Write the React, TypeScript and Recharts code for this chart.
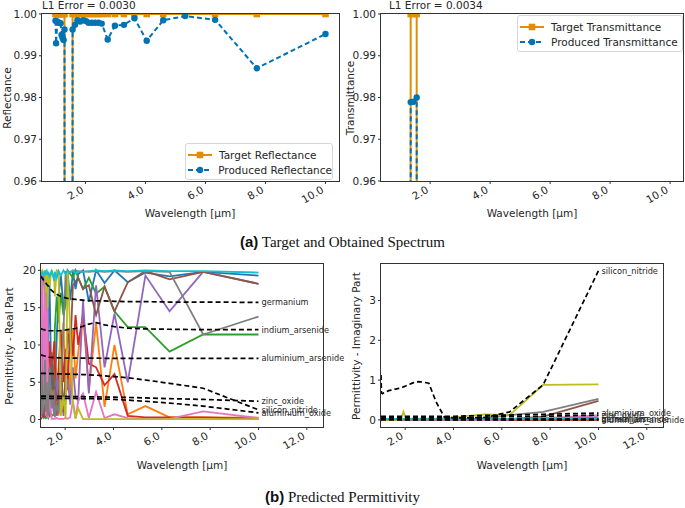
import { LineChart, Line, XAxis, YAxis, LabelList } from 'recharts';

const FONT = '"DejaVu Sans", Verdana, sans-serif';
const INK = '#262626';

// wavelength grid [µm]
const wavelength = [
  1.0, 1.02, 1.06, 1.12, 1.17, 1.2, 1.24, 1.27, 1.3, 1.35, 1.44,
  1.55, 1.57, 1.65, 1.73, 1.82, 1.93, 2.02, 2.1, 2.21, 2.32, 2.43,
  2.54, 2.74, 2.98, 3.28, 3.63, 4.04, 4.59, 5.32, 6.32, 7.71, 10.0,
];

// spectra
const targetReflectance = [
  1, 1, 1, 1, 1, 1, 1, 1, 1, 0, 0,
  0, 1, 1, 1, 1, 1, 1, 1, 1, 1, 1,
  1, 1, 1, 1, 1, 1, 1, 1, 1, 1, 1,
];
const producedReflectance = [
  0.9984, 0.993, 0.9982, 0.9979, 0.9978, 0.995, 0.9942, 0.9938, 0.9963, 0.021, 0.02,
  0.02, 0.9963, 0.9974, 0.9985, 0.9982, 0.9985, 0.9983, 0.9979, 0.9979, 0.9979, 0.9979,
  0.9977, 0.9939, 0.9972, 0.9974, 0.999, 0.9936, 0.9985, 0.9995, 0.9986, 0.987, 0.9952,
];
const targetTransmittance = [
  0, 0, 0, 0, 0, 0, 0, 0, 0, 1, 1,
  1, 0, 0, 0, 0, 0, 0, 0, 0, 0, 0,
  0, 0, 0, 0, 0, 0, 0, 0, 0, 0, 0,
];
const producedTransmittance = [
  0.0016, 0.007, 0.0018, 0.0021, 0.0022, 0.005, 0.0058, 0.0062, 0.0037, 0.9789, 0.979,
  0.98, 0.0037, 0.0026, 0.0015, 0.0018, 0.0015, 0.0017, 0.0021, 0.0021, 0.0021, 0.0021,
  0.0023, 0.0061, 0.0028, 0.0026, 0.001, 0.0064, 0.0015, 0.0005, 0.0014, 0.013, 0.0048,
];

// predicted permittivity, real part (one array per layer)
const blueReal = [
  19.8, 2.0, 19.5, 19.0, 17.0, 6.0, 19.5, 1.5, 12.0, 18.5, 3.0,
  7.5, 2.0, 11.0, 16.5, 19.5, 15.0, 15.5, 19.8, 16.0, 19.8, 17.5,
  19.5, 20.0, 15.8, 20.0, 18.3, 20.0, 18.4, 19.7, 19.2, 19.8, 19.3,
];
const orangeReal = [
  0.2, 19.8, 0.3, 5.0, 0.2, 12.0, 3.0, 0.5, 9.0, 0.3, 4.0,
  0.5, 10.5, 3.0, 0.5, 6.0, 13.0, 2.0, 8.0, 3.5, 12.0, 5.5,
  9.0, 14.0, 4.0, 13.0, 1.7, 10.0, 0.7, 1.8, 0.3, 0.3, 0.25,
];
const greenReal = [
  0.3, 0.2, 0.5, 0.2, 0.4, 0.2, 0.3, 0.3, 0.2, 1.5, 0.5,
  0.8, 12.0, 16.5, 13.0, 17.0, 14.0, 15.5, 20.0, 19.5, 19.0, 20.0,
  19.0, 17.5, 19.0, 16.9, 17.8, 14.5, 12.4, 12.4, 9.1, 11.4, 11.4,
];
const redReal = [
  0.1, 0.5, 7.0, 0.3, 2.0, 6.0, 0.5, 9.0, 3.0, 10.5, 6.0,
  10.5, 8.0, 2.5, 7.0, 12.0, 5.0, 9.5, 4.0, 12.5, 8.5, 14.0,
  10.0, 14.2, 7.5, 7.0, 4.6, 6.1, 0.5, 0.3, 0.3, 0.3, 0.1,
];
const purpleReal = [
  19.5, 0.3, 14.0, 4.0, 0.5, 8.0, 2.0, 0.3, 5.0, 1.0, 3.0,
  0.5, 2.0, 6.0, 1.5, 4.0, 0.5, 3.0, 5.5, 2.0, 7.0, 3.0,
  2.5, 16.0, 3.5, 18.0, 7.0, 14.2, 5.0, 19.3, 14.5, 19.8, 18.2,
];
const brownReal = [
  0.5, 3.0, 0.2, 8.0, 0.3, 4.0, 10.0, 0.5, 5.0, 0.3, 9.0,
  2.0, 4.5, 0.5, 3.0, 8.0, 1.0, 6.0, 12.0, 9.0, 18.0, 18.5,
  19.0, 17.5, 18.0, 14.0, 17.8, 14.5, 18.4, 19.9, 18.8, 19.8, 18.2,
];
const pinkReal = [
  0.3, 18.5, 19.5, 2.0, 19.0, 0.5, 12.0, 17.0, 0.2, 3.0, 0.1,
  0.1, 0.1, 0.2, 0.1, 0.1, 0.1, 0.2, 0.1, 0.3, 2.5, 0.2,
  2.5, 3.5, 0.2, 3.7, 0.2, 0.7, 0.2, 0.1, 0.1, 1.1, 0.2,
];
const grayReal = [
  0.5, 6.0, 0.8, 3.0, 8.0, 1.0, 5.0, 2.5, 0.5, 7.0, 1.5,
  4.0, 0.3, 2.0, 0.8, 5.0, 12.0, 19.8, 19.9, 19.8, 19.9, 20.0,
  19.8, 19.9, 19.8, 19.9, 19.8, 19.9, 19.8, 19.9, 19.8, 11.4, 13.8,
];
const oliveReal = [
  20.0, 19.8, 20.0, 19.5, 20.0, 17.0, 19.8, 15.0, 19.5, 18.0, 20.0,
  19.0, 16.5, 20.0, 19.8, 0.5, 3.0, 0.2, 20.0, 12.0, 2.0, 0.1,
  1.5, 0.05, 0.05, 0.05, 0.05, 0.05, 0.05, 0.05, 0.05, 0.05, 0.05,
];
const cyanReal = [
  19.8, 19.5, 19.7, 19.3, 19.8, 19.6, 19.9, 19.4, 19.8, 19.2, 19.9,
  18.6, 19.8, 19.0, 19.9, 19.3, 20.0, 19.5, 19.9, 19.7, 20.0, 19.6,
  19.9, 19.8, 19.9, 20.0, 19.9, 20.0, 19.9, 20.0, 19.9, 19.9, 19.7,
];

// predicted permittivity, imaginary part
const blueImag = [
  0.01, 0.01, 0.01, 0.01, 0.01, 0.01, 0.01, 0.01, 0.01, 0.01, 0.01,
  0.01, 0.01, 0.01, 0.01, 0.01, 0.01, 0.01, 0.01, 0.01, 0.01, 0.01,
  0.01, 0.01, 0.01, 0.01, 0.01, 0.01, 0.01, 0.01, 0.01, 0.01, 0.01,
];
const orangeImag = [
  0, 0, 0, 0, 0, 0, 0, 0, 0, 0, 0,
  0, 0, 0, 0, 0, 0, 0, 0, 0, 0, 0,
  0, 0, 0, 0, 0, 0, 0, 0, 0, 0, 0,
];
const greenImag = [
  0, 0, 0, 0, 0, 0, 0, 0, 0, 0, 0,
  0, 0, 0, 0, 0, 0, 0, 0, 0, 0, 0,
  0, 0, 0, 0, 0, 0, 0, 0, 0, 0.01, 0.01,
];
const redImag = [
  0, 0, 0, 0, 0, 0, 0, 0, 0, 0, 0,
  0, 0, 0, 0, 0, 0, 0, 0, 0, 0, 0,
  0, 0, 0, 0, 0, 0, 0, 0, 0, 0, 0,
];
const purpleImag = [
  0, 0, 0, 0, 0, 0, 0, 0, 0, 0, 0,
  0, 0, 0, 0, 0, 0, 0, 0, 0, 0, 0,
  0, 0, 0, 0, 0, 0, 0, 0, 0.01, 0.03, 0.07,
];
const brownImag = [
  0, 0, 0, 0, 0, 0, 0, 0, 0, 0, 0,
  0, 0, 0, 0, 0, 0, 0, 0, 0, 0, 0,
  0, 0, 0, 0, 0, 0, 0, 0, 0.02, 0.08, 0.48,
];
const pinkImag = [
  0, 0, 0, 0, 0, 0, 0, 0, 0, 0, 0,
  0, 0, 0, 0, 0, 0, 0, 0, 0, 0, 0,
  0, 0, 0, 0, 0, 0, 0, 0, 0.01, 0.04, 0.11,
];
const grayImag = [
  0, 0, 0, 0, 0, 0, 0, 0, 0, 0, 0,
  0, 0, 0, 0, 0, 0, 0, 0, 0, 0, 0,
  0, 0, 0, 0, 0, 0, 0, 0.04, 0.12, 0.2, 0.53,
];
const oliveImag = [
  0, 0, 0, 0, 0, 0, 0, 0, 0, 0, 0,
  0, 0, 0, 0, 0, 0.2, 0.04, 0.03, 0.03, 0.03, 0.03,
  0.03, 0.03, 0.03, 0.03, 0.04, 0.06, 0.1, 0.14, 0.12, 0.88, 0.89,
];
const cyanImag = [
  0.02, 0.02, 0.02, 0.02, 0.02, 0.02, 0.02, 0.02, 0.02, 0.02, 0.02,
  0.02, 0.02, 0.02, 0.02, 0.02, 0.02, 0.02, 0.02, 0.02, 0.02, 0.02,
  0.02, 0.02, 0.02, 0.02, 0.02, 0.02, 0.02, 0.02, 0.02, 0.04, 0.03,
];

// reference materials
const materialNames = [
  'germanium', 'indium_arsenide', 'aluminium_arsenide',
  'silicon_nitride', 'zinc_oxide', 'aluminium_oxide',
];
const germaniumReal = [
  19.2, 19.1, 18.9, 18.6, 18.4, 18.3, 18.1, 18.0, 17.9, 17.6, 17.3,
  17.0, 16.95, 16.8, 16.65, 16.5, 16.4, 16.3, 16.25, 16.2, 16.15, 16.1,
  16.05, 16.0, 15.95, 15.9, 15.9, 15.85, 15.8, 15.8, 15.75, 15.75, 15.7,
];
const indiumArsenideReal = [
  12.2, 12.15, 12.1, 12.05, 12.0, 12.0, 11.95, 11.95, 11.9, 11.9, 11.9,
  11.9, 11.9, 11.9, 11.9, 11.92, 11.95, 12.0, 12.05, 12.1, 12.15, 12.2,
  12.3, 12.5, 12.8, 13.0, 12.7, 12.45, 12.25, 12.15, 12.1, 12.05, 12.05,
];
const aluminiumArsenideReal = [
  8.7, 8.65, 8.6, 8.55, 8.5, 8.45, 8.42, 8.4, 8.38, 8.35, 8.32,
  8.3, 8.3, 8.28, 8.27, 8.26, 8.25, 8.25, 8.24, 8.24, 8.23, 8.23,
  8.23, 8.22, 8.22, 8.22, 8.21, 8.21, 8.21, 8.2, 8.2, 8.2, 8.2,
];
const siliconNitrideReal = [
  6.2, 6.2, 6.19, 6.18, 6.18, 6.17, 6.17, 6.16, 6.16, 6.15, 6.15,
  6.14, 6.14, 6.13, 6.13, 6.12, 6.11, 6.1, 6.09, 6.08, 6.07, 6.06,
  6.05, 6.03, 6.0, 5.95, 5.85, 5.75, 5.6, 5.3, 4.85, 4.2, 1.3,
];
const zincOxideReal = [
  3.15, 3.15, 3.14, 3.14, 3.13, 3.13, 3.13, 3.12, 3.12, 3.12, 3.11,
  3.11, 3.11, 3.1, 3.1, 3.1, 3.1, 3.1, 3.09, 3.09, 3.08, 3.08,
  3.07, 3.06, 3.05, 3.03, 3.02, 3.0, 2.96, 2.9, 2.8, 2.7, 2.45,
];
const aluminiumOxideReal = [
  2.85, 2.85, 2.85, 2.85, 2.85, 2.85, 2.85, 2.85, 2.85, 2.85, 2.85,
  2.85, 2.85, 2.85, 2.85, 2.85, 2.85, 2.85, 2.84, 2.84, 2.83, 2.83,
  2.82, 2.81, 2.8, 2.78, 2.75, 2.7, 2.6, 2.45, 2.2, 1.8, 0.9,
];
const germaniumImag = [
  0.05, 0.05, 0.04, 0.04, 0.04, 0.03, 0.03, 0.03, 0.03, 0.02, 0.02,
  0.02, 0.02, 0.02, 0.02, 0.01, 0.01, 0.01, 0.01, 0.01, 0.01, 0.01,
  0.01, 0.01, 0.01, 0.01, 0.01, 0.01, 0.01, 0.01, 0.01, 0.01, 0.01,
];
const indiumArsenideImag = [
  0.02, 0.02, 0.02, 0.02, 0.02, 0.02, 0.02, 0.02, 0.02, 0.02, 0.02,
  0.02, 0.02, 0.02, 0.02, 0.02, 0.02, 0.02, 0.02, 0.02, 0.02, 0.02,
  0.02, 0.02, 0.02, 0.02, 0.02, 0.02, 0.02, 0.02, 0.02, 0.02, 0.02,
];
const aluminiumArsenideImag = [
  0, 0, 0, 0, 0, 0, 0, 0, 0, 0, 0,
  0, 0, 0, 0, 0, 0, 0, 0, 0, 0, 0,
  0, 0, 0, 0, 0, 0, 0, 0, 0, 0, 0,
];
const siliconNitrideImag = [
  1.13, 0.68, 0.66, 0.68, 0.69, 0.7, 0.71, 0.72, 0.73, 0.74, 0.75,
  0.76, 0.77, 0.78, 0.79, 0.8, 0.83, 0.85, 0.87, 0.9, 0.93, 0.95,
  0.96, 0.95, 0.92, 0.45, 0.06, 0.05, 0.05, 0.06, 0.2, 0.88, 3.75,
];
const zincOxideImag = [
  0.06, 0.06, 0.06, 0.06, 0.06, 0.06, 0.06, 0.06, 0.06, 0.06, 0.06,
  0.06, 0.06, 0.06, 0.06, 0.06, 0.06, 0.06, 0.06, 0.06, 0.06, 0.06,
  0.06, 0.06, 0.06, 0.06, 0.06, 0.06, 0.06, 0.07, 0.08, 0.09, 0.12,
];
const aluminiumOxideImag = [
  0.09, 0.09, 0.09, 0.09, 0.09, 0.09, 0.09, 0.09, 0.09, 0.09, 0.09,
  0.09, 0.09, 0.09, 0.09, 0.09, 0.09, 0.09, 0.09, 0.09, 0.09, 0.09,
  0.09, 0.09, 0.09, 0.09, 0.09, 0.09, 0.1, 0.11, 0.12, 0.14, 0.17,
];

const layerColors = [
  '#1f77b4', '#ff7f0e', '#2ca02c', '#d62728', '#9467bd',
  '#8c564b', '#e377c2', '#7f7f7f', '#bcbd22', '#17becf',
];
const realLayers = [
  blueReal, orangeReal, greenReal, redReal, purpleReal,
  brownReal, pinkReal, grayReal, oliveReal, cyanReal,
];
const imagLayers = [
  blueImag, orangeImag, greenImag, redImag, purpleImag,
  brownImag, pinkImag, grayImag, oliveImag, cyanImag,
];
const realMaterials = [
  germaniumReal, indiumArsenideReal, aluminiumArsenideReal,
  siliconNitrideReal, zincOxideReal, aluminiumOxideReal,
];
const imagMaterials = [
  germaniumImag, indiumArsenideImag, aluminiumArsenideImag,
  siliconNitrideImag, zincOxideImag, aluminiumOxideImag,
];

const spectrumXTicks = [2, 4, 6, 8, 10];
const spectrumYTicks = [0.96, 0.97, 0.98, 0.99, 1.0];
const permXTicks = [2, 4, 6, 8, 10, 12];
const realYTicks = [0, 5, 10, 15, 20];
const imagYTicks = [0, 1, 2, 3];

const ORANGE = '#de8f05';
const BLUE = '#0173b2';

const spectrumRows = wavelength.map((wl, i) => ({
  wl,
  targetR: targetReflectance[i],
  producedR: producedReflectance[i],
  targetT: targetTransmittance[i],
  producedT: producedTransmittance[i],
}));

function permRows(layers: number[][], materials: number[][]) {
  return wavelength.map((wl, i) => {
    const row: Record<string, number> = { wl };
    layers.forEach((arr, k) => (row[`p${k}`] = arr[i]));
    materials.forEach((arr, k) => (row[`m${k}`] = arr[i]));
    return row;
  });
}
const realRows = permRows(realLayers, realMaterials);
const imagRows = permRows(imagLayers, imagMaterials);

// eslint-disable-next-line @typescript-eslint/no-explicit-any
function SlantTick(props: any) {
  const { x, y, payload } = props;
  const ox = x - 1;
  const oy = y + 6;
  return (
    <text
      x={ox}
      y={oy}
      textAnchor="end"
      transform={`rotate(-30 ${ox} ${oy})`}
      fontSize={10.5}
      fill={INK}
      fontFamily={FONT}
    >
      {Number(payload.value).toFixed(1)}
    </text>
  );
}

// eslint-disable-next-line @typescript-eslint/no-explicit-any
function SquareDot(props: any) {
  const { cx, cy, index } = props;
  if (cx == null || cy == null) return null;
  return <rect key={`sq-${index}`} x={cx - 3.3} y={cy - 3.3} width={6.6} height={6.6} fill={ORANGE} />;
}

// eslint-disable-next-line @typescript-eslint/no-explicit-any
function RoundDot(props: any) {
  const { cx, cy, index } = props;
  if (cx == null || cy == null) return null;
  return <circle key={`c-${index}`} cx={cx} cy={cy} r={3.2} fill={BLUE} />;
}

function endLabel(name: string) {
  // eslint-disable-next-line @typescript-eslint/no-explicit-any
  return (props: any) => {
    const { index, x, y, viewBox } = props;
    if (index !== wavelength.length - 1) return null;
    const px = x ?? viewBox?.x;
    const py = y ?? viewBox?.y;
    return (
      <text x={px + 3} y={py} dy="0.35em" fontSize={8.2} fill={INK} fontFamily={FONT}>
        {name}
      </text>
    );
  };
}

const tickStyle = { fontSize: 10.5, fill: INK, fontFamily: FONT };

function Frame({ left, top, width, height }: { left: number; top: number; width: number; height: number }) {
  return (
    <div
      style={{
        position: 'absolute',
        left,
        top,
        width,
        height,
        border: '1px solid #333',
        boxSizing: 'border-box',
        pointerEvents: 'none',
      }}
    />
  );
}

function Txt({ x, y, text, rotate = 0, size = 10.5 }: { x: number; y: number; text: string; rotate?: number; size?: number }) {
  return (
    <div
      style={{
        position: 'absolute',
        left: x,
        top: y,
        transform: `translate(-50%, -50%) rotate(${rotate}deg)`,
        fontSize: size,
        fontFamily: FONT,
        color: INK,
        whiteSpace: 'nowrap',
        lineHeight: 1,
      }}
    >
      {text}
    </div>
  );
}

function LegendBox({ left, top, width, kind }: { left: number; top: number; width: number; kind: string }) {
  const rows = [
    { label: `Target ${kind}`, color: ORANGE, dash: undefined, square: true },
    { label: `Produced ${kind}`, color: BLUE, dash: '5 3', square: false },
  ];
  return (
    <div
      style={{
        position: 'absolute',
        left,
        top,
        width,
        height: 37,
        border: '1px solid #d6d6d6',
        borderRadius: 3,
        background: 'rgba(255,255,255,0.85)',
        boxSizing: 'border-box',
        padding: '3px 0 0 2px',
      }}
    >
      {rows.map((r) => (
        <div key={r.label} style={{ display: 'flex', alignItems: 'center', height: 15 }}>
          <svg width={24} height={10}>
            <line x1={0} y1={5} x2={24} y2={5} stroke={r.color} strokeWidth={2} strokeDasharray={r.dash} />
            {r.square ? (
              <rect x={8.7} y={1.7} width={6.6} height={6.6} fill={r.color} />
            ) : (
              <circle cx={12} cy={5} r={3.2} fill={r.color} />
            )}
          </svg>
          <span style={{ marginLeft: 7, fontSize: 10.5, fontFamily: FONT, color: INK, whiteSpace: 'nowrap' }}>
            {r.label}
          </span>
        </div>
      ))}
    </div>
  );
}

function SpectrumChart({
  width,
  yWidth,
  right,
  xDomain,
  targetKey,
  producedKey,
}: {
  width: number;
  yWidth: number;
  right: number;
  xDomain: [number, number];
  targetKey: string;
  producedKey: string;
}) {
  return (
    <LineChart width={width} height={215} data={spectrumRows} margin={{ top: 14, right, bottom: 0, left: 0 }}>
      <XAxis
        type="number"
        dataKey="wl"
        domain={xDomain}
        ticks={spectrumXTicks}
        tick={<SlantTick />}
        axisLine={false}
        tickLine={{ stroke: '#333' }}
        tickSize={3}
        height={34}
        allowDataOverflow
      />
      <YAxis
        type="number"
        domain={[0.96, 1.0]}
        ticks={spectrumYTicks}
        tickFormatter={(v: number) => v.toFixed(2)}
        tick={tickStyle}
        axisLine={false}
        tickLine={{ stroke: '#333' }}
        tickSize={3}
        tickMargin={2}
        width={yWidth}
        allowDataOverflow
      />
      <Line
        type="linear"
        dataKey={targetKey}
        stroke={ORANGE}
        strokeWidth={2}
        dot={<SquareDot />}
        activeDot={false}
        isAnimationActive={false}
      />
      <Line
        type="linear"
        dataKey={producedKey}
        stroke={BLUE}
        strokeWidth={2}
        strokeDasharray="5 3"
        dot={<RoundDot />}
        activeDot={false}
        isAnimationActive={false}
      />
    </LineChart>
  );
}

function PermittivityChart({
  rows,
  yWidth,
  yDomain,
  yTicks,
}: {
  rows: Record<string, number>[];
  yWidth: number;
  yDomain: [number, number];
  yTicks: number[];
}) {
  return (
    <LineChart width={yWidth + 282 + 36} height={225} data={rows} margin={{ top: 14, right: 36, bottom: 0, left: 0 }}>
      <XAxis
        type="number"
        dataKey="wl"
        domain={[1.0, 12.67]}
        ticks={permXTicks}
        tick={<SlantTick />}
        axisLine={false}
        tickLine={{ stroke: '#333' }}
        tickSize={3}
        height={48}
      />
      <YAxis
        type="number"
        domain={yDomain}
        ticks={yTicks}
        tick={tickStyle}
        axisLine={false}
        tickLine={{ stroke: '#333' }}
        tickSize={3}
        tickMargin={2}
        width={yWidth}
      />
      {layerColors.map((c, k) => (
        <Line
          key={`p${k}`}
          type="linear"
          dataKey={`p${k}`}
          stroke={c}
          strokeWidth={1.8}
          dot={false}
          activeDot={false}
          isAnimationActive={false}
        />
      ))}
      {materialNames.map((name, k) => (
        <Line
          key={`m${k}`}
          type="linear"
          dataKey={`m${k}`}
          stroke="#000"
          strokeWidth={1.7}
          strokeDasharray="5 3"
          dot={false}
          activeDot={false}
          isAnimationActive={false}
        >
          <LabelList dataKey={`m${k}`} content={endLabel(name)} />
        </Line>
      ))}
    </LineChart>
  );
}

export default function App() {
  return (
    <div style={{ position: 'absolute', left: 0, top: 0, width: 685, height: 508, background: '#fff', overflow: 'hidden' }}>
      {/* (a) spectra */}
      <div style={{ position: 'absolute', left: 0, top: 0 }}>
        <SpectrumChart width={342} yWidth={42} right={3} xDomain={[0.55, 10.45]} targetKey="targetR" producedKey="producedR" />
      </div>
      <div style={{ position: 'absolute', left: 342, top: 0 }}>
        <SpectrumChart width={343} yWidth={39} right={2} xDomain={[0.36, 10.43]} targetKey="targetT" producedKey="producedT" />
      </div>
      <Frame left={41} top={13} width={299} height={169} />
      <Frame left={380} top={13} width={304} height={169} />
      <div style={{ position: 'absolute', left: 42, top: 0, fontSize: 10.5, lineHeight: '10.5px', fontFamily: FONT, color: INK, whiteSpace: 'nowrap' }}>
        L1 Error = 0.0030
      </div>
      <div style={{ position: 'absolute', left: 389, top: 0, fontSize: 10.5, lineHeight: '10.5px', fontFamily: FONT, color: INK, whiteSpace: 'nowrap' }}>
        L1 Error = 0.0034
      </div>
      <LegendBox left={185} top={143} width={148} kind="Reflectance" />
      <LegendBox left={517} top={15} width={166} kind="Transmittance" />
      <Txt x={190} y={213} text="Wavelength [µm]" />
      <Txt x={532} y={213} text="Wavelength [µm]" />
      <Txt x={6.5} y={97.5} text="Reflectance" rotate={-90} />
      <Txt x={350} y={97.5} text="Transmittance" rotate={-90} />

      {/* (b) permittivity */}
      <div style={{ position: 'absolute', left: 0, top: 250 }}>
        <PermittivityChart rows={realRows} yWidth={41} yDomain={[-1, 20.85]} yTicks={realYTicks} />
      </div>
      <div style={{ position: 'absolute', left: 342, top: 250 }}>
        <PermittivityChart rows={imagRows} yWidth={39} yDomain={[-0.18, 3.92]} yTicks={imagYTicks} />
      </div>
      <Frame left={40} top={263} width={284} height={165} />
      <Frame left={380} top={263} width={284} height={165} />
      <Txt x={182} y={465} text="Wavelength [µm]" />
      <Txt x={522} y={465} text="Wavelength [µm]" />
      <Txt x={8.5} y={345.5} text="Permittivity - Real Part" rotate={-90} />
      <Txt x={356} y={345.5} text="Permittivity - Imaginary Part" rotate={-90} />

      <div
        style={{
          position: 'absolute',
          left: 0,
          width: 685,
          top: 233,
          textAlign: 'center',
          fontSize: 15,
          fontFamily: '"Liberation Serif", "Times New Roman", serif',
          color: '#111',
          whiteSpace: 'nowrap',
        }}
      >
        <b style={{ fontFamily: '"Liberation Sans", Arial, sans-serif' }}>(a)</b> Target and Obtained Spectrum
      </div>
      <div
        style={{
          position: 'absolute',
          left: 0,
          width: 685,
          top: 488,
          textAlign: 'center',
          fontSize: 15,
          fontFamily: '"Liberation Serif", "Times New Roman", serif',
          color: '#111',
          whiteSpace: 'nowrap',
        }}
      >
        <b style={{ fontFamily: '"Liberation Sans", Arial, sans-serif' }}>(b)</b> Predicted Permittivity
      </div>
    </div>
  );
}
